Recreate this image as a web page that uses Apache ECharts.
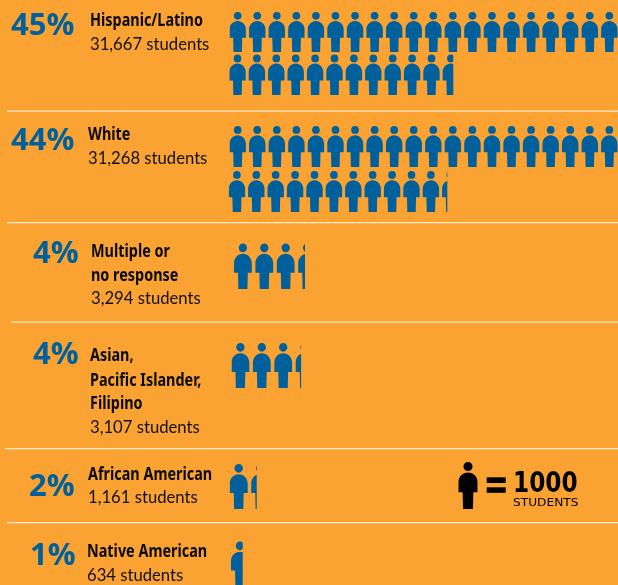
<!DOCTYPE html>
<html>
<head>
<meta charset="utf-8">
<style>
html,body{margin:0;padding:0;background:#FBA332;}
#main{width:618px;height:585px;}
</style>
<script src="https://cdn.jsdelivr.net/npm/echarts@6/dist/echarts.min.js"></script>
</head>
<body>
<div id="main"></div>
<script>
var percents = ['45%', '44%', '4%', '4%', '2%', '1%'];
var nameLines = [
	['Hispanic/Latino'],
	['White'],
	['Multiple or', 'no response'],
	['Asian,', 'Pacific Islander,', 'Filipino'],
	['African American'],
	['Native American']
];
var studentLabels = ['31,667 students', '31,268 students', '3,294 students', '3,107 students', '1,161 students', '634 students'];
// each icon row, in units of 1000 students
var row1Units = [20, 11.667];
var row2Units = [20, 11.268];
var row3Units = [3.294];
var row4Units = [3.107];
var row5Units = [1.161];
var row6Units = [0.634];
var keyUnits = [1];

var PERSON = 'path://M24.5 0A11.5 11.5 0 1 1 24.5 23A11.5 11.5 0 1 1 24.5 0ZM0 77L0 52C0 38 11 27 24.5 27C38 27 49 38 49 52L49 77L38 77L37 120L12 120L11 77Z';
var BLUE = '#00609C';

// left, top, icon w, icon h, icon spacing, px per unit on the axis
var iconRows = [
	{units: row1Units[0], x: 229.5, y: 12, w: 16.4, h: 40, step: 19.56, unit: 19.56},
	{units: row1Units[1], x: 229.3, y: 54.5, w: 16.4, h: 40.5, step: 19.4, unit: 19.2},
	{units: row2Units[0], x: 229.5, y: 126, w: 16.4, h: 41, step: 19.56, unit: 19.56},
	{units: row2Units[1], x: 228.7, y: 171, w: 16.4, h: 41, step: 19.4, unit: 19.4},
	{units: row3Units[0], x: 234, y: 243.5, w: 17.8, h: 45.5, step: 21.4, unit: 21.55},
	{units: row4Units[0], x: 231.5, y: 343, w: 17.8, h: 45, step: 21.4, unit: 22.4},
	{units: row5Units[0], x: 229.7, y: 464, w: 18, h: 45, step: 21.5, unit: 23.3},
	{units: row6Units[0], x: 231, y: 543, w: 18, h: 45, step: 21.5, unit: 18.5},
	{units: keyUnits[0], x: 458.3, y: 462, w: 19.4, h: 47, step: 19.4, unit: 19.4, color: '#000'}
];

var grids = [], xAxes = [], yAxes = [], series = [];
iconRows.forEach(function (r, i) {
	var slots = Math.ceil(r.units);
	var unitsWide = (618 - r.x) / r.unit;
	grids.push({left: r.x, top: r.y, width: 618 - r.x, height: r.h});
	xAxes.push({type: 'value', gridIndex: i, min: 0, max: unitsWide, show: false});
	yAxes.push({type: 'category', gridIndex: i, data: [''], show: false});
	series.push({
		type: 'pictorialBar',
		xAxisIndex: i,
		yAxisIndex: i,
		silent: true,
		animation: false,
		symbol: PERSON,
		symbolSize: [r.w, r.h],
		symbolRepeat: slots,
		symbolClip: true,
		symbolBoundingData: (slots * r.step - (r.step - r.w)) / r.unit,
		symbolPosition: 'start',
		itemStyle: {color: r.color || BLUE},
		data: [r.units]
	});
});

var graphic = [];
// separators
[[7, 111], [7, 222.5], [11, 322], [5, 448.5], [7, 522.5]].forEach(function (l) {
	graphic.push({
		type: 'rect',
		silent: true,
		shape: {x: l[0], y: l[1] - 0.5, width: 618 - l[0], height: 1.2},
		style: {fill: '#FFE9C8'}
	});
});

function addText(text, x, y, font, fill, scaleX) {
	graphic.push({
		type: 'text',
		silent: true,
		x: x,
		y: y,
		scaleX: scaleX || 1,
		style: {text: text, font: font, fill: fill, verticalAlign: 'middle'}
	});
}

var PCT_FONT = 'bold 31px "Open Sans"';
var NAME_FONT = 'bold 18px "Noto Sans"';
var COUNT_FONT = '17px Lato';
// percent x/y, text x, name line y, count y
var textRows = [
	{px: 11, py: 26, tx: 90, ny: [21], cy: 45},
	{px: 11, py: 141, tx: 88, ny: [135], cy: 159},
	{px: 33, py: 254, tx: 91, ny: [252, 276], cy: 299},
	{px: 33, py: 355, tx: 90, ny: [356, 381, 404], cy: 428},
	{px: 29, py: 487, tx: 88, ny: [475], cy: 498},
	{px: 30, py: 556, tx: 87, ny: [552], cy: 576}
];
textRows.forEach(function (t, i) {
	addText(percents[i], t.px, t.py, PCT_FONT, BLUE);
	nameLines[i].forEach(function (s, j) {
		addText(s, t.tx, t.ny[j], NAME_FONT, '#0a0a0a', 0.8);
	});
	addText(studentLabels[i], t.tx, t.cy, COUNT_FONT, '#111', 0.98);
});

// key
graphic.push({type: 'rect', silent: true, shape: {x: 486.7, y: 477.3, width: 19, height: 5.7}, style: {fill: '#000'}});
graphic.push({type: 'rect', silent: true, shape: {x: 486.7, y: 487.3, width: 19, height: 5.5}, style: {fill: '#000'}});
addText('1000', 513, 485, '900 28px "DejaVu Sans"', '#000', 0.83);
addText('STUDENTS', 513, 503.5, '10.5px "DejaVu Sans"', '#000', 1.16);

var myChart = echarts.init(document.getElementById('main'));
myChart.setOption({
	backgroundColor: '#FBA332',
	animation: false,
	grid: grids,
	xAxis: xAxes,
	yAxis: yAxes,
	series: series,
	graphic: graphic
});
</script>
</body>
</html>
